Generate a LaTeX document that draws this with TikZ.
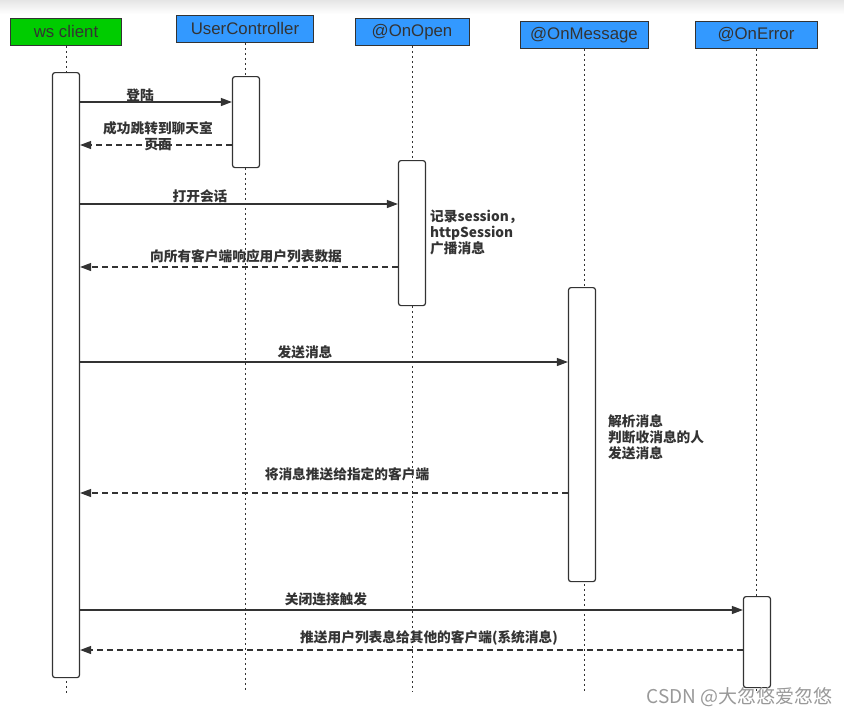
\documentclass[tikz,border=0pt]{standalone}
\usepackage{fontspec}
\setmainfont{Liberation Sans}
\newfontfamily\cjk{Noto Sans CJK SC}
\usetikzlibrary{arrows.meta}
\definecolor{hdrgreen}{RGB}{0,204,0}
\definecolor{hdrblue}{RGB}{51,153,255}
\definecolor{ink}{RGB}{51,51,51}
\tikzset{
  hdr/.style={draw=ink, line width=0.9pt, inner sep=0pt, minimum height=27pt,
    font=\fontsize{16.8}{18}\selectfont, text=ink, anchor=north},
  lifeline/.style={draw=ink, line width=1pt, dash pattern=on 2pt off 3pt},
  actbox/.style={draw=ink, line width=1.2pt, fill=white, rounded corners=2.5pt,
    minimum width=27pt, inner sep=0pt, anchor=north},
  call/.style={draw=ink, line width=1.2pt, -{Triangle[length=11pt,width=8pt]}},
  reply/.style={draw=ink, line width=1.2pt, dash pattern=on 6pt off 4pt,
    -{Triangle[length=11pt,width=8pt]}},
  lbl/.style={font=\cjk\bfseries\fontsize{13.7}{16}\selectfont, text=ink, inner sep=0pt, align=center},
  note/.style={font=\cjk\bfseries\fontsize{13.7}{16}\selectfont, text=ink, inner sep=0pt, align=left, anchor=north west}
}
\begin{document}
\begin{tikzpicture}[x=1pt,y=-1pt]
\useasboundingbox (0,0) rectangle (844,715);
\shade[top color=black!10, bottom color=white] (0,0) rectangle (844,14);

% headers
\node[hdr, fill=hdrgreen, minimum width=111pt] (h1) at (66,18) {ws client};
\node[hdr, fill=hdrblue, minimum width=137pt] (h2) at (245,15) {UserController};
\node[hdr, fill=hdrblue, minimum width=114pt] (h3) at (412,18) {@OnOpen};
\node[hdr, fill=hdrblue, minimum width=128pt] (h4) at (584,21) {@OnMessage};
\node[hdr, fill=hdrblue, minimum width=122pt] (h5) at (756,21) {@OnError};

% lifeline ends
\coordinate (e1) at (66,693);
\coordinate (e2) at (245,692);
\coordinate (e3) at (412,692);
\coordinate (e4) at (584,692);
\coordinate (e5) at (756,693);

\draw[lifeline] (h1.south) -- (e1);
\draw[lifeline] (h2.south) -- (e2);
\draw[lifeline] (h3.south) -- (e3);
\draw[lifeline] (h4.south) -- (e4);
\draw[lifeline] (h5.south) -- (e5);

% activation boxes
\node[actbox, minimum height=605pt] (a1) at (66,72) {};
\node[actbox, minimum height=91pt] (a2) at (246,76) {};
\node[actbox, minimum height=145pt] (a3) at (412,160) {};
\node[actbox, minimum height=294pt] (a4) at (582,287) {};
\node[actbox, minimum height=91pt] (a5) at (757,596) {};

% message levels
\coordinate (m1) at (0,102);
\coordinate (m2) at (0,145);
\coordinate (m3) at (0,204);
\coordinate (m4) at (0,267);
\coordinate (m5) at (0,362);
\coordinate (m6) at (0,493);
\coordinate (m7) at (0,610);
\coordinate (m8) at (0,650);

\draw[call] (a1.east |- m1) -- (a2.west |- m1);
\draw[reply] (a2.west |- m2) -- (a1.east |- m2);
\draw[call] (a1.east |- m3) -- (a3.west |- m3);
\draw[reply] (a3.west |- m4) -- (a1.east |- m4);
\draw[call] (a1.east |- m5) -- (a4.west |- m5);
\draw[reply] (a4.west |- m6) -- (a1.east |- m6);
\draw[call] (a1.east |- m7) -- (a5.west |- m7);
\draw[reply] (a5.west |- m8) -- (a1.east |- m8);

% labels
\node[lbl] (t1) at (140,95) {登陆};
\node[lbl] (t2) at (158,136) {成功跳转到聊天室\\页面};
\node[lbl] (t3) at (200,196) {打开会话};
\node[lbl] (t4) at (246,256) {向所有客户端响应用户列表数据};
\node[note] (n1) at (430,210) {记录session，\\httpSession\\广播消息};
\node[lbl] (t5) at (305,352) {发送消息};
\node[note] (n2) at (608,414) {解析消息\\判断收消息的人\\发送消息};
\node[lbl] (t6) at (347,474) {将消息推送给指定的客户端};
\node[lbl] (t7) at (326,599) {关闭连接触发};
\node[lbl] (t8) at (429,638) {推送用户列表息给其他的客户端(系统消息)};

% watermark
\node[font=\cjk\fontsize{19}{21}\selectfont, text=black!40, anchor=east, inner sep=0pt] (wm) at (833,697) {CSDN @大忽悠爱忽悠};
\end{tikzpicture}
\end{document}
